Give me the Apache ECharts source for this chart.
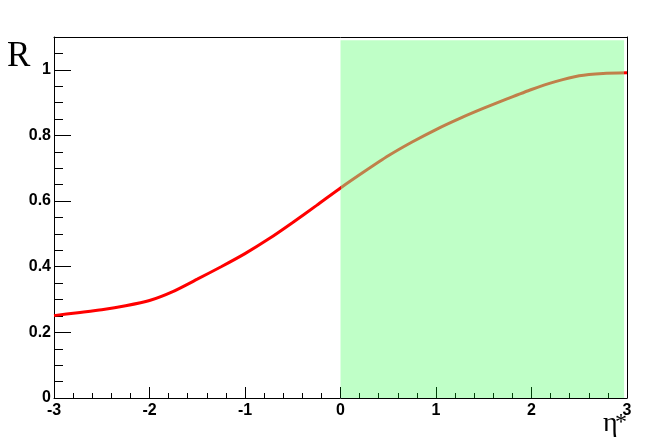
<!DOCTYPE html>
<html><head><meta charset="utf-8">
<script src="https://cdn.jsdelivr.net/npm/echarts@6/dist/echarts.min.js"></script>
<style>html,body{margin:0;padding:0;background:#fff}#c{width:661px;height:440px}</style>
</head><body><div id="c"></div>
<script>
// eta* values and ratio R
const etaValues = [-3, -2.75, -2.5, -2.25, -2, -1.75, -1.5, -1.25, -1, -0.75, -0.5, -0.25, 0,
                   0.25, 0.5, 0.75, 1, 1.25, 1.5, 1.75, 2, 2.25, 2.5, 2.75, 3];
const rValues = [0.251, 0.260, 0.269, 0.281, 0.297, 0.325, 0.362, 0.400, 0.440, 0.485, 0.535, 0.587, 0.640,
                 0.690, 0.738, 0.780, 0.818, 0.852, 0.883, 0.912, 0.940, 0.964, 0.982, 0.989, 0.991];
const xTicks = [-3, -2, -1, 0, 1, 2, 3];
const yTicks = [0, 0.2, 0.4, 0.6, 0.8, 1];
const bandRange = [0, 2.97];   // green acceptance band in eta*
const bandTop = 1.09;

const chart = echarts.init(document.getElementById('c'));
const font = 'Liberation Sans, Arial, sans-serif';
const serif = 'Liberation Serif, Times New Roman, serif';
const lineData = etaValues.map((x, i) => [x, rValues[i]]);

chart.setOption({
  animation: false,
  backgroundColor: '#fff',
  grid: { left: 54, right: 34, top: 37, bottom: 42 },
  xAxis: [{
    type: 'value', position: 'bottom', min: xTicks[0], max: xTicks[xTicks.length - 1], interval: 1,
    axisLine: { show: true, onZero: false, lineStyle: { color: '#000', width: 1 } },
    axisTick: { show: true, inside: true, length: 11, lineStyle: { color: '#000' } },
    minorTick: { show: true, splitNumber: 5, length: 5, lineStyle: { color: '#000' } },
    splitLine: { show: false },
    axisLabel: { color: '#000', fontFamily: font, fontWeight: 'bold', fontSize: 16, margin: 5,
      formatter: v => xTicks.includes(Math.round(v * 100) / 100) ? String(Math.round(v)) : '' }
  }, {
    type: 'value', position: 'top', min: -3, max: 3,
    axisLine: { show: true, onZero: false, lineStyle: { color: '#000', width: 1 } },
    axisTick: { show: false }, axisLabel: { show: false }, splitLine: { show: false }
  }],
  yAxis: [{
    type: 'value', position: 'left', min: 0, max: 1.1, interval: 0.2,
    axisLine: { show: true, onZero: false, lineStyle: { color: '#000', width: 1 } },
    axisTick: { show: true, inside: true, length: 17, lineStyle: { color: '#000' } },
    splitLine: { show: false },
    axisLabel: { color: '#000', fontFamily: font, fontWeight: 'bold', fontSize: 16, margin: 3,
      formatter: v => {
        const r = Math.round(v * 10) / 10;
        return yTicks.some(t => Math.abs(t - v) < 1e-6) ? String(r) : '';
      } }
  }, {
    type: 'value', position: 'left', min: 0, max: 1.1, interval: 0.05,
    axisLine: { show: false, onZero: false },
    axisTick: { show: true, inside: true, length: 9, lineStyle: { color: '#000' } },
    axisLabel: { show: false }, splitLine: { show: false }
  }, {
    type: 'value', position: 'right', min: 0, max: 1.1,
    axisLine: { show: true, onZero: false, lineStyle: { color: '#000', width: 1 } },
    axisTick: { show: false }, axisLabel: { show: false }, splitLine: { show: false }
  }],
  visualMap: {
    type: 'piecewise', show: false, dimension: 0, seriesIndex: 0,
    pieces: [
      { lt: bandRange[0], color: '#ff0000' },
      { gte: bandRange[0], lt: bandRange[1], color: '#c0804a' },
      { gte: bandRange[1], color: '#ff0000' }
    ]
  },
  series: [{
    type: 'line', data: lineData, showSymbol: false, smooth: 0.2, z: 3,
    lineStyle: { width: 3 }
  }, {
    type: 'line', data: [], z: 1, silent: true,
    markArea: {
      silent: true,
      itemStyle: { color: 'rgba(0,255,30,0.25)' },
      data: [[{ coord: [bandRange[0], 0] }, { coord: [bandRange[1], bandTop] }]]
    }
  }],
  graphic: [
    { type: 'text', left: 7, top: 39, style: { text: 'R', font: '35px ' + serif, fill: '#000' } },
    { type: 'text', x: 603, y: 423.5, style: { text: 'η', font: '28px ' + serif, fill: '#000', verticalAlign: 'middle', align: 'left' } },
    { type: 'text', x: 621, y: 422.5, style: { text: '*', font: '24px ' + serif, fill: '#000', verticalAlign: 'middle', align: 'center' } }
  ]
});
</script></body></html>
